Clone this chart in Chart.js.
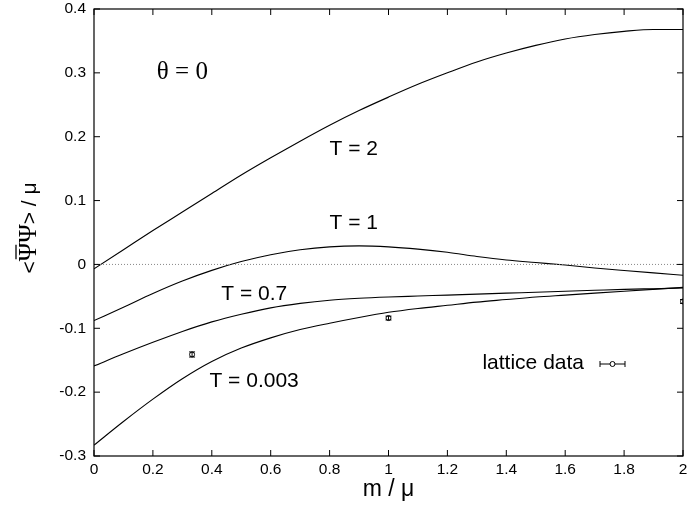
<!DOCTYPE html>
<html>
<head>
<meta charset="utf-8">
<script src="https://cdn.jsdelivr.net/npm/chart.js@4.4.1/dist/chart.umd.min.js"></script>
<style>
html, body { margin: 0; padding: 0; background: #fff; }
</style>
</head>
<body>
<canvas id="myChart" width="688" height="506"></canvas>
<script>
// m / mu sample points
var mValues = [0, 0.1, 0.2, 0.3, 0.4, 0.5, 0.6, 0.7, 0.8, 0.9, 1.0,
               1.1, 1.2, 1.3, 1.4, 1.5, 1.6, 1.7, 1.8, 1.9, 2.0];
// <psibar psi> / mu for each temperature
var psiT2    = [-0.007, 0.023, 0.053, 0.082, 0.111, 0.140, 0.167, 0.193, 0.218, 0.241, 0.262,
                0.282, 0.300, 0.317, 0.331, 0.343, 0.353, 0.360, 0.365, 0.368, 0.368];
var psiT1    = [-0.088, -0.067, -0.0455, -0.026, -0.0093, 0.0045, 0.0152, 0.0229, 0.0275, 0.029, 0.0275,
                0.024, 0.019, 0.0125, 0.007, 0.003, -0.001, -0.0055, -0.0095, -0.0133, -0.017];
var psiT07   = [-0.159, -0.140, -0.122, -0.105, -0.090, -0.078, -0.068, -0.061, -0.056, -0.053, -0.051,
                -0.0495, -0.048, -0.0465, -0.045, -0.0435, -0.042, -0.0405, -0.039, -0.038, -0.037];
var psiT0003 = [-0.283, -0.246, -0.211, -0.179, -0.152, -0.131, -0.115, -0.102, -0.092, -0.083, -0.075,
                -0.069, -0.064, -0.059, -0.055, -0.051, -0.048, -0.045, -0.042, -0.039, -0.036];
// lattice data with errors
var latticeM   = [0.333, 1.0, 2.0];
var latticePsi = [-0.141, -0.084, -0.058];
var latticeErr = [0.004, 0.003, 0.003];
// dotted zero line
var zeroM   = [0, 2];
var zeroPsi = [0, 0];
// texts
var curveLabels = ['T = 2', 'T = 1', 'T = 0.7', 'T = 0.003'];
var thetaLabel = '\u03B8 = 0';
var legendLabel = 'lattice data';
var xTitle = 'm / \u03BC';

function toPoints(xs, ys) {
    return xs.map(function(x, i) { return {x: x, y: ys[i]}; });
}

function curve(ys) {
    return {
        data: toPoints(mValues, ys),
        showLine: true,
        borderColor: '#000',
        borderWidth: 1.1,
        pointRadius: 0,
        cubicInterpolationMode: 'monotone',
        fill: false
    };
}

var sansFont = '"Liberation Sans", Arial, Helvetica, sans-serif';
var serifFont = '"Liberation Serif", "Times New Roman", serif';

// y title: < Psibar Psi > / mu, drawn in pieces so the bar sits on the first Psi
function drawYTitle(ctx, cx, cy) {
    var parts = [
        {t: '<', f: '21px ' + sansFont},
        {t: '\u03A8', f: '25px ' + serifFont, bar: true},
        {t: '\u03A8', f: '25px ' + serifFont},
        {t: '> / \u03BC', f: '21px ' + sansFont}
    ];
    var total = 0;
    parts.forEach(function(p) {
        ctx.font = p.f;
        p.w = ctx.measureText(p.t).width;
        total += p.w;
    });
    ctx.save();
    ctx.translate(cx, cy);
    ctx.rotate(-Math.PI / 2);
    ctx.textAlign = 'left';
    ctx.textBaseline = 'alphabetic';
    var x = -total / 2;
    parts.forEach(function(p) {
        ctx.font = p.f;
        ctx.fillText(p.t, x, 0);
        if (p.bar) {
            ctx.beginPath();
            ctx.lineWidth = 1.3;
            ctx.moveTo(x + 2, -20);
            ctx.lineTo(x + p.w - 2, -20);
            ctx.stroke();
        }
        x += p.w;
    });
    ctx.restore();
}

// frame, inward ticks, labels, error bars and the key
var decorations = {
    id: 'decorations',
    beforeDatasetsDraw: function(chart) {
        var ctx = chart.ctx, a = chart.chartArea;
        var xs = chart.scales.x, ys = chart.scales.y;
        ctx.save();
        ctx.beginPath();
        ctx.rect(a.left, a.top, a.right - a.left, a.bottom - a.top);
        ctx.clip();
        ctx.strokeStyle = '#000';
        ctx.lineWidth = 1;
        latticeM.forEach(function(m, i) {
            var px = xs.getPixelForValue(m);
            var y1 = ys.getPixelForValue(latticePsi[i] + latticeErr[i]);
            var y2 = ys.getPixelForValue(latticePsi[i] - latticeErr[i]);
            ctx.beginPath();
            ctx.moveTo(px, y1); ctx.lineTo(px, y2);
            ctx.moveTo(px - 3, y1); ctx.lineTo(px + 3, y1);
            ctx.moveTo(px - 3, y2); ctx.lineTo(px + 3, y2);
            ctx.stroke();
        });
        ctx.restore();
    },
    afterDraw: function(chart) {
        var ctx = chart.ctx, a = chart.chartArea;
        var xs = chart.scales.x, ys = chart.scales.y;
        ctx.save();
        ctx.strokeStyle = '#000';
        ctx.lineWidth = 1.2;
        ctx.strokeRect(a.left, a.top, a.right - a.left, a.bottom - a.top);

        ctx.lineWidth = 1;
        ctx.beginPath();
        xs.ticks.forEach(function(t) {
            var px = xs.getPixelForValue(t.value);
            ctx.moveTo(px, a.bottom); ctx.lineTo(px, a.bottom - 6);
            ctx.moveTo(px, a.top); ctx.lineTo(px, a.top + 6);
        });
        ys.ticks.forEach(function(t) {
            var py = ys.getPixelForValue(t.value);
            ctx.moveTo(a.left, py); ctx.lineTo(a.left + 6, py);
            ctx.moveTo(a.right, py); ctx.lineTo(a.right - 6, py);
        });
        ctx.stroke();

        ctx.fillStyle = '#000';
        ctx.textBaseline = 'middle';

        // theta label (serif)
        ctx.font = '25px ' + serifFont;
        ctx.textAlign = 'center';
        ctx.fillText(thetaLabel, xs.getPixelForValue(0.30), ys.getPixelForValue(0.301));

        // temperature labels
        ctx.font = '21px ' + sansFont;
        ctx.textAlign = 'left';
        var spots = [[0.80, 0.181], [0.80, 0.064], [0.432, -0.046], [0.392, -0.183]];
        curveLabels.forEach(function(txt, i) {
            ctx.fillText(txt, xs.getPixelForValue(spots[i][0]), ys.getPixelForValue(spots[i][1]));
        });

        // key
        ctx.textAlign = 'right';
        ctx.fillText(legendLabel, 584, 363);
        ctx.beginPath();
        ctx.moveTo(600, 364); ctx.lineTo(625, 364);
        ctx.moveTo(600, 361); ctx.lineTo(600, 367);
        ctx.moveTo(625, 361); ctx.lineTo(625, 367);
        ctx.stroke();
        ctx.beginPath();
        ctx.arc(612.5, 364, 2.5, 0, Math.PI * 2);
        ctx.fillStyle = '#fff';
        ctx.fill();
        ctx.stroke();

        // axis titles
        ctx.fillStyle = '#000';
        ctx.font = '23px ' + sansFont;
        ctx.textAlign = 'center';
        ctx.fillText(xTitle, (a.left + a.right) / 2, 490);
        drawYTitle(ctx, 36, 228);
        ctx.restore();
    }
};

function tickText(v) {
    return String(parseFloat(Number(v).toFixed(1)));
}

var ctx = document.getElementById('myChart').getContext('2d');
var myChart = new Chart(ctx, {
    type: 'scatter',
    data: {
        datasets: [
            {
                data: toPoints(zeroM, zeroPsi),
                showLine: true,
                borderColor: '#888',
                borderWidth: 1,
                borderDash: [1, 2],
                pointRadius: 0
            },
            curve(psiT2),
            curve(psiT1),
            curve(psiT07),
            curve(psiT0003),
            {
                data: toPoints(latticeM, latticePsi),
                pointStyle: 'circle',
                pointRadius: 2.5,
                pointBorderWidth: 1,
                pointBorderColor: '#000',
                pointBackgroundColor: 'rgba(0,0,0,0)',
                clip: 0
            }
        ]
    },
    options: {
        responsive: false,
        animation: false,
        events: [],
        layout: { padding: { top: 9, right: 2, left: 0, bottom: 0 } },
        plugins: {
            legend: { display: false },
            tooltip: { enabled: false }
        },
        scales: {
            x: {
                type: 'linear',
                min: 0,
                max: 2,
                afterFit: function(scale) {
                    scale.height = 50;
                    scale.paddingLeft = 0;
                    scale.paddingRight = 0;
                },
                grid: { display: false, drawTicks: false },
                border: { display: false },
                ticks: {
                    stepSize: 0.2,
                    padding: 4,
                    color: '#000',
                    maxRotation: 0,
                    font: { family: sansFont, size: 15.5 },
                    callback: tickText
                }
            },
            y: {
                type: 'linear',
                min: -0.3,
                max: 0.4,
                afterFit: function(scale) {
                    scale.width = 94;
                    scale.paddingTop = 0;
                    scale.paddingBottom = 0;
                },
                grid: { display: false, drawTicks: false },
                border: { display: false },
                ticks: {
                    stepSize: 0.1,
                    padding: 8,
                    color: '#000',
                    font: { family: sansFont, size: 15.5 },
                    callback: tickText
                }
            }
        }
    },
    plugins: [decorations]
});
</script>
</body>
</html>
